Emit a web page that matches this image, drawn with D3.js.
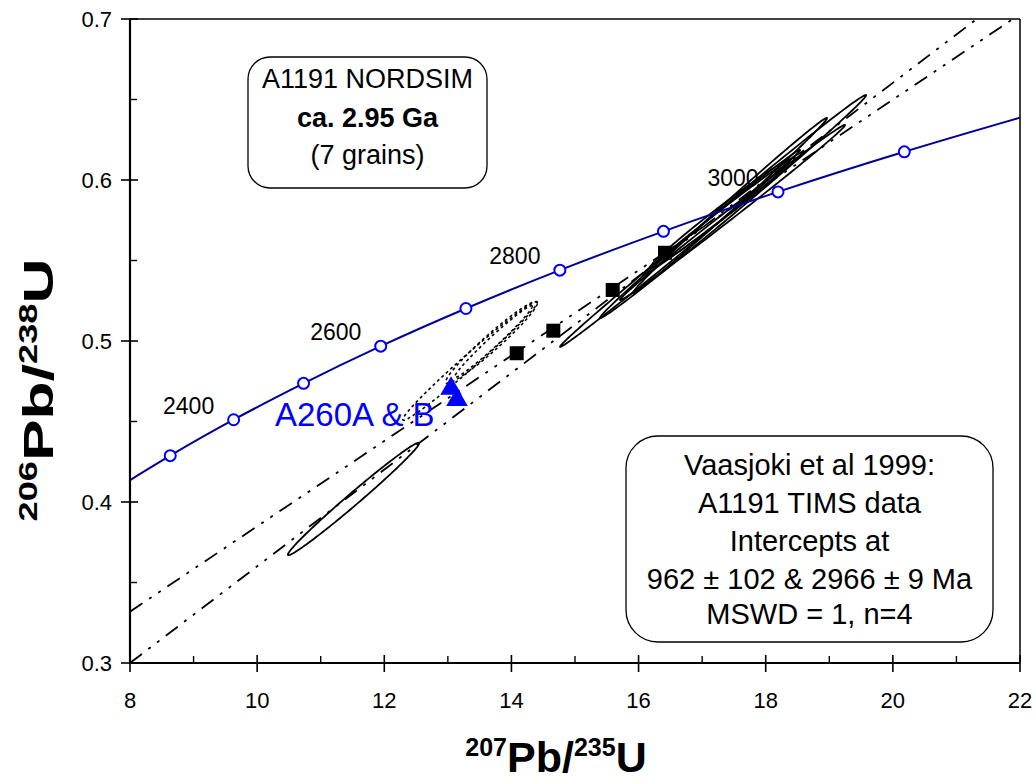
<!DOCTYPE html>
<html>
<head>
<meta charset="utf-8">
<script src="https://cdn.jsdelivr.net/npm/d3@7"></script>
<style>
  html, body { margin: 0; padding: 0; background: #fff; }
  svg { display: block; font-family: "Liberation Sans", Arial, Helvetica, sans-serif; }
</style>
</head>
<body>
<svg id="chart" width="1036" height="780"></svg>
<script>
// Concordia ages with their 207Pb/235U and 206Pb/238U ratios
const concAges = [2300, 2400, 2500, 2600, 2700, 2800, 2900, 3000, 3100];
const concX = [8.633, 9.630, 10.730, 11.944, 13.284, 14.762, 16.392, 18.193, 20.180];
const concY = [0.4288, 0.4511, 0.4737, 0.4968, 0.5202, 0.5440, 0.5681, 0.5926, 0.6175];
// where the curve meets the plot edges
const concEdgeX = [8, 22];
const concEdgeY = [0.4136, 0.6387];
const labelledAges = [2400, 2600, 2800, 3000];

// TIMS fractions (Vaasjoki et al 1999)
const timsX = [14.083, 14.659, 15.593, 16.416];
const timsY = [0.4924, 0.5064, 0.5317, 0.5548];

// A260A & B
const a260X = [13.050, 13.144];
const a260Y = [0.4704, 0.4635];

// NORDSIM error ellipses: centre, half extents, correlation
const nordX   = [11.516, 16.652, 17.486, 17.438, 17.328, 17.478, 17.281];
const nordY   = [0.4019, 0.5575, 0.5835, 0.5842, 0.5792, 0.5798, 0.5789];
const nordSx  = [1.032, 1.888, 2.093, 1.527, 1.259, 1.770, 1.103];
const nordSy  = [0.0349, 0.0612, 0.0693, 0.0544, 0.0383, 0.0544, 0.0337];
const nordRho = [0.9901, 0.9983, 0.9975, 0.9971, 0.9965, 0.9977, 0.9902];

// dotted ellipses
const dotX   = [13.348, 13.687, 13.718];
const dotY   = [0.4876, 0.4991, 0.4997];
const dotSx  = [1.057, 0.721, 0.608];
const dotSy  = [0.0368, 0.0254, 0.0222];
const dotRho = [0.9877, 0.9656, 0.9819];

// discordia lines (two points each)
const timsLineX = [8, 21.89];
const timsLineY = [0.3319, 0.700];
const nordLineX = [8, 21.32];
const nordLineY = [0.300, 0.700];

// axes
const xMajor = [8, 10, 12, 14, 16, 18, 20, 22];
const xMinor = [9, 11, 13, 15, 17, 19, 21];
const yMajor = [0.3, 0.4, 0.5, 0.6, 0.7];
const yMinor = [0.35, 0.45, 0.55, 0.65];

const svg = d3.select("#chart");
const L = 130, R = 1020, T = 19, B = 663;
const x = d3.scaleLinear().domain([8, 22]).range([L, R]);
const y = d3.scaleLinear().domain([0.3, 0.7]).range([B, T]);

svg.append("defs").append("clipPath").attr("id", "plotClip")
  .append("rect").attr("x", L).attr("y", T).attr("width", R - L).attr("height", B - T);

const plot = svg.append("g").attr("clip-path", "url(#plotClip)");

// discordia lines
const seg = d3.line().x(d => x(d[0])).y(d => y(d[1]));
[[timsLineX, timsLineY], [nordLineX, nordLineY]].forEach(([xs, ys]) => {
  plot.append("path")
    .attr("d", seg(xs.map((v, i) => [v, ys[i]])))
    .attr("fill", "none").attr("stroke", "#000").attr("stroke-width", 1.8)
    .attr("stroke-dasharray", "15,8,3,8,3,8");
});

// error ellipse outline
function ellipse(cx, cy, sx, sy, rho) {
  const pts = [];
  const k = Math.sqrt(1 - rho * rho);
  for (let i = 0; i < 180; i++) {
    const t = i / 180 * 2 * Math.PI;
    pts.push([cx + sx * Math.cos(t), cy + sy * (rho * Math.cos(t) + k * Math.sin(t))]);
  }
  return pts;
}
const closed = d3.line().x(d => x(d[0])).y(d => y(d[1])).curve(d3.curveLinearClosed);

dotX.forEach((v, i) => {
  plot.append("path")
    .attr("d", closed(ellipse(v, dotY[i], dotSx[i], dotSy[i], dotRho[i])))
    .attr("fill", "none").attr("stroke", "#000").attr("stroke-width", 1.6)
    .attr("stroke-dasharray", "3,3");
});
nordX.forEach((v, i) => {
  plot.append("path")
    .attr("d", closed(ellipse(v, nordY[i], nordSx[i], nordSy[i], nordRho[i])))
    .attr("fill", "none").attr("stroke", "#000").attr("stroke-width", 1.8);
});

// concordia curve
const curvePts = [[concEdgeX[0], concEdgeY[0]]]
  .concat(concX.map((v, i) => [v, concY[i]]))
  .concat([[concEdgeX[1], concEdgeY[1]]]);
plot.append("path")
  .attr("d", d3.line().x(d => x(d[0])).y(d => y(d[1])).curve(d3.curveMonotoneX)(curvePts))
  .attr("fill", "none").attr("stroke", "#000096").attr("stroke-width", 2);

plot.selectAll("circle.age").data(concAges).enter().append("circle")
  .attr("class", "age")
  .attr("cx", (d, i) => x(concX[i])).attr("cy", (d, i) => y(concY[i]))
  .attr("r", 5.5).attr("fill", "#fff").attr("stroke", "#0000ff").attr("stroke-width", 2);

// age labels
labelledAges.forEach(a => {
  const i = concAges.indexOf(a);
  svg.append("text")
    .attr("x", x(concX[i]) - 45).attr("y", y(concY[i]) - 6)
    .attr("text-anchor", "middle").attr("font-size", 23).attr("fill", "#000")
    .text(a);
});

// TIMS squares
plot.selectAll("rect.tims").data(timsX).enter().append("rect")
  .attr("class", "tims")
  .attr("x", (d, i) => x(d) - 7).attr("y", (d, i) => y(timsY[i]) - 7)
  .attr("width", 14).attr("height", 14).attr("fill", "#000");

// A260 triangles
const tri = d3.symbol().type(d3.symbolTriangle).size(200);
a260X.forEach((v, i) => {
  plot.append("path").attr("d", tri())
    .attr("transform", `translate(${x(v)},${y(a260Y[i])})`)
    .attr("fill", "#0000ff");
});
svg.append("text").attr("x", 275).attr("y", 426)
  .attr("font-size", 33).attr("fill", "#0000ff").text("A260A & B");

// frame and axes
svg.append("line").attr("x1", L).attr("x2", R).attr("y1", T).attr("y2", T)
  .attr("stroke", "#000").attr("stroke-width", 1.5);
svg.append("line").attr("x1", R).attr("x2", R).attr("y1", T).attr("y2", B)
  .attr("stroke", "#000").attr("stroke-width", 1.5);
svg.append("line").attr("x1", L).attr("x2", R).attr("y1", B).attr("y2", B)
  .attr("stroke", "#000").attr("stroke-width", 2.2);
svg.append("line").attr("x1", L).attr("x2", L).attr("y1", T).attr("y2", B)
  .attr("stroke", "#000").attr("stroke-width", 2.2);

const xAxis = svg.append("g");
xMajor.forEach(v => {
  xAxis.append("line").attr("x1", x(v)).attr("x2", x(v)).attr("y1", B - 8).attr("y2", B + 9)
    .attr("stroke", "#000").attr("stroke-width", 1.6);
  xAxis.append("text").attr("x", x(v)).attr("y", B + 45)
    .attr("text-anchor", "middle").attr("font-size", 22).text(d3.format("d")(v));
});
xMinor.forEach(v => {
  xAxis.append("line").attr("x1", x(v)).attr("x2", x(v)).attr("y1", B - 7).attr("y2", B)
    .attr("stroke", "#000").attr("stroke-width", 1.4);
});
const yAxis = svg.append("g");
yMajor.forEach(v => {
  yAxis.append("line").attr("x1", L - 9).attr("x2", L + 8).attr("y1", y(v)).attr("y2", y(v))
    .attr("stroke", "#000").attr("stroke-width", 1.6);
  yAxis.append("text").attr("x", 112).attr("y", y(v) + 8)
    .attr("text-anchor", "end").attr("font-size", 22).text(d3.format(".1f")(v));
});
yMinor.forEach(v => {
  yAxis.append("line").attr("x1", L).attr("x2", L + 7).attr("y1", y(v)).attr("y2", y(v))
    .attr("stroke", "#000").attr("stroke-width", 1.4);
});

// axis titles with superscript mass numbers
function isoTitle(g, a, b) {
  const t = g.append("text").attr("text-anchor", "middle").attr("font-weight", "bold");
  t.append("tspan").attr("font-size", 25).attr("dy", -16).text(a);
  t.append("tspan").attr("font-size", 43).attr("dy", 16).text("Pb/");
  t.append("tspan").attr("font-size", 25).attr("dy", -16).text(b);
  t.append("tspan").attr("font-size", 43).attr("dy", 16).text("U");
}
isoTitle(svg.append("g").attr("transform", "translate(556,772)"), "207", "235");
isoTitle(svg.append("g").attr("transform", "translate(53,390) rotate(-90) scale(1.45,1)"), "206", "238");

// annotation boxes
function noteBox(x0, y0, w, h, r, lines, size) {
  const g = svg.append("g");
  g.append("rect").attr("x", x0).attr("y", y0).attr("width", w).attr("height", h)
    .attr("rx", r).attr("ry", r).attr("fill", "#fff").attr("stroke", "#000").attr("stroke-width", 1.3);
  lines.forEach(l => {
    g.append("text").attr("x", x0 + w / 2).attr("y", l.y).attr("text-anchor", "middle")
      .attr("font-size", size).attr("font-weight", l.bold ? "bold" : "normal").text(l.t);
  });
}
noteBox(248, 57, 239, 131, 22, [
  { t: "A1191 NORDSIM", y: 88 },
  { t: "ca. 2.95 Ga", y: 127, bold: true },
  { t: "(7 grains)", y: 164 }
], 27);
noteBox(626, 436, 367, 206, 32, [
  { t: "Vaasjoki et al 1999:", y: 475 },
  { t: "A1191 TIMS data", y: 513 },
  { t: "Intercepts at", y: 551 },
  { t: "962 ± 102 & 2966 ± 9 Ma", y: 589 },
  { t: "MSWD = 1, n=4", y: 624 }
], 29);
</script>
</body>
</html>
